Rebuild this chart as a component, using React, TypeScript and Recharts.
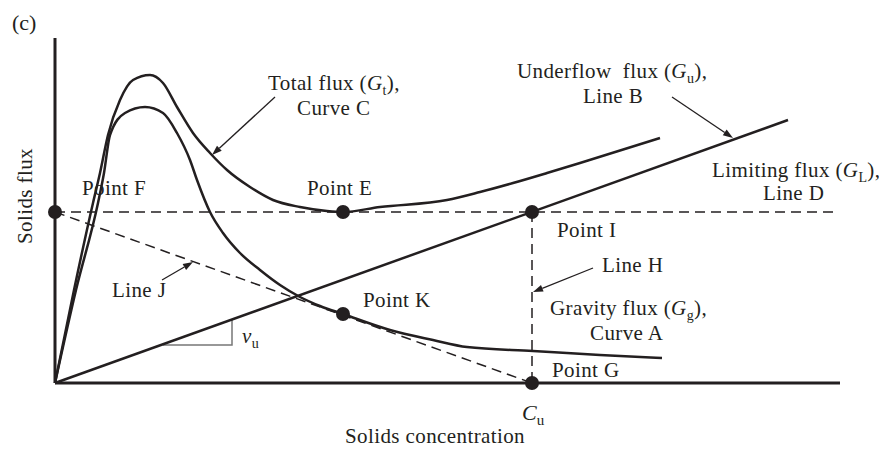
import React from "react";
import { ComposedChart, Line, Scatter, XAxis, YAxis, ReferenceLine } from "recharts";

// units: x = concentration, y = flux (arbitrary)
const totalFlux = [
  { x: 0, y: 0 }, { x: 19, y: 93 }, { x: 38, y: 180 }, { x: 45, y: 210 }, { x: 53, y: 248 },
  { x: 65, y: 283 }, { x: 78, y: 303 }, { x: 95, y: 308 }, { x: 108, y: 300 }, { x: 122, y: 276 },
  { x: 138, y: 250 }, { x: 155, y: 230 }, { x: 172, y: 213 }, { x: 195, y: 196 }, { x: 218, y: 183 },
  { x: 245, y: 176 }, { x: 272, y: 172 }, { x: 288, y: 171 }, { x: 325, y: 176 }, { x: 392, y: 183 },
  { x: 425, y: 191 }, { x: 458, y: 200 }, { x: 492, y: 210 }, { x: 525, y: 220 }, { x: 605, y: 245 },
];

const gravityFlux = [
  { x: 0, y: 0 }, { x: 21, y: 93 }, { x: 43, y: 180 }, { x: 49, y: 210 }, { x: 55, y: 248 },
  { x: 70, y: 270 }, { x: 90, y: 276 }, { x: 108, y: 270 }, { x: 122, y: 250 }, { x: 135, y: 223 },
  { x: 142, y: 203 }, { x: 155, y: 171 }, { x: 168, y: 150 }, { x: 185, y: 130 }, { x: 205, y: 113 },
  { x: 225, y: 98 }, { x: 245, y: 86 }, { x: 265, y: 77 }, { x: 288, y: 69 }, { x: 335, y: 53 },
  { x: 378, y: 43 }, { x: 412, y: 36 }, { x: 478, y: 32 }, { x: 545, y: 28 }, { x: 607, y: 25 },
];

const underflowLine = [{ x: 0, y: 0 }, { x: 733, y: 263 }];
const limitingLevel = [{ x: 0, y: 171 }, { x: 780, y: 171 }];
const lineH = [{ x: 477, y: 171 }, { x: 477, y: 0 }];
const lineJ = [{ x: 0, y: 171 }, { x: 477, y: 0 }];
const slopeMark = [{ x: 108, y: 38 }, { x: 177, y: 38 }, { x: 177, y: 63 }];

const points = [
  { name: "F", x: 0, y: 171 },
  { name: "E", x: 288, y: 171 },
  { name: "I", x: 477, y: 171 },
  { name: "K", x: 288, y: 69 },
  { name: "G", x: 477, y: 0 },
];

const arrows = [
  { from: { x: 220, y: 286 }, to: { x: 157, y: 228 } },
  { from: { x: 617, y: 286 }, to: { x: 678, y: 245 } },
  { from: { x: 107, y: 103 }, to: { x: 138, y: 121 } },
  { from: { x: 538, y: 115 }, to: { x: 478, y: 91 } },
];

const labels = [
  { x: 213, y: 293, pre: "Total flux (", g: "G", sub: "t", post: ")," },
  { x: 242, y: 268, pre: "Curve C" },
  { x: 462, y: 305, pre: "Underflow\u00a0 flux (", g: "G", sub: "u", post: ")," },
  { x: 528, y: 280, pre: "Line B" },
  { x: 657, y: 206, pre: "Limiting flux (", g: "G", sub: "L", post: ")," },
  { x: 708, y: 183, pre: "Line D" },
  { x: 27, y: 188, pre: "Point F" },
  { x: 252, y: 188, pre: "Point E" },
  { x: 502, y: 146, pre: "Point I" },
  { x: 547, y: 111, pre: "Line H" },
  { x: 308, y: 76, pre: "Point K" },
  { x: 495, y: 68, pre: "Gravity flux (", g: "G", sub: "g", post: ")," },
  { x: 535, y: 43, pre: "Curve A" },
  { x: 497, y: 6, pre: "Point G" },
  { x: 57, y: 86, pre: "Line J" },
  { x: 187, y: 40, pre: "", g: "\u03bd", sub: "u" },
];

const xTicks = [477];

const INK = "#231f20";
const FONT = "'Liberation Serif', 'Times New Roman', serif";
const FS = 21;
const LS = 0.4;

function LabelShape(props: any) {
  const { cx, cy, payload } = props;
  return (
    <text x={cx} y={cy} fontFamily={FONT} fontSize={FS} letterSpacing={LS} fill={INK}>
      {payload.pre ? <tspan>{payload.pre}</tspan> : null}
      {payload.g ? <tspan fontStyle="italic">{payload.g}</tspan> : null}
      {payload.sub ? <tspan fontSize={14} dy={5}>{payload.sub}</tspan> : null}
      {payload.post ? <tspan dy={-5}>{payload.post}</tspan> : null}
    </text>
  );
}

function ArrowShape(props: any) {
  const { x1, y1, x2, y2 } = props;
  const a = Math.atan2(y2 - y1, x2 - x1);
  const L = 10, W = 3.5;
  const bx = x2 - L * Math.cos(a), by = y2 - L * Math.sin(a);
  const p1 = `${bx + W * Math.sin(a)},${by - W * Math.cos(a)}`;
  const p2 = `${bx - W * Math.sin(a)},${by + W * Math.cos(a)}`;
  return (
    <g>
      <line x1={x1} y1={y1} x2={bx} y2={by} stroke={INK} strokeWidth={1.3} />
      <polygon points={`${x2},${y2} ${p1} ${p2}`} fill={INK} />
    </g>
  );
}

function CuTick(props: any) {
  const { x, y } = props;
  return (
    <text x={x - 10} y={y + 29} fontFamily={FONT} fontSize={22} fill={INK}>
      <tspan fontStyle="italic">C</tspan>
      <tspan fontSize={15} dy={5}>u</tspan>
    </text>
  );
}

export default function App() {
  return (
    <div style={{ position: "absolute", left: 0, top: 0, width: 879, height: 449, background: "#fff" }}>
      <div style={{ position: "absolute", left: 12, top: 9, fontFamily: FONT, fontSize: 22, color: INK, lineHeight: "28px" }}>
        (c)
      </div>
      <ComposedChart width={879} height={449} margin={{ top: 38, right: 39, bottom: 36, left: 35 }}>
        <XAxis
          type="number" dataKey="x" domain={[0, 785]} ticks={xTicks} tick={<CuTick />}
          tickLine={false} axisLine={{ stroke: INK, strokeWidth: 3 }} height={30}
          label={({ viewBox }: any) => (
            <text x={viewBox.x + 380} y={viewBox.y + 60} textAnchor="middle" fontFamily={FONT} fontSize={FS} letterSpacing={LS} fill={INK}>
              Solids concentration
            </text>
          )}
        />
        <YAxis
          type="number" dataKey="y" domain={[0, 345]} ticks={[]} tick={false}
          tickLine={false} axisLine={{ stroke: INK, strokeWidth: 3 }} width={20}
          label={({ viewBox }: any) => (
            <text transform={`translate(32, ${viewBox.y + 158}) rotate(-90)`} textAnchor="middle" fontFamily={FONT} fontSize={FS} letterSpacing={LS} fill={INK}>
              Solids flux
            </text>
          )}
        />
        <Line data={limitingLevel} dataKey="y" type="linear" stroke={INK} strokeWidth={1.5} strokeDasharray="10 6" dot={false} isAnimationActive={false} />
        <Line data={lineH} dataKey="y" type="linear" stroke={INK} strokeWidth={1.5} strokeDasharray="10 6" dot={false} isAnimationActive={false} />
        <Line data={lineJ} dataKey="y" type="linear" stroke={INK} strokeWidth={1.5} strokeDasharray="10 6" dot={false} isAnimationActive={false} />
        <Line data={slopeMark} dataKey="y" type="linear" stroke="#777" strokeWidth={1.5} dot={false} isAnimationActive={false} />
        <Line data={underflowLine} dataKey="y" type="linear" stroke={INK} strokeWidth={2.5} dot={false} isAnimationActive={false} />
        <Line data={gravityFlux} dataKey="y" type="monotone" stroke={INK} strokeWidth={2.5} dot={false} isAnimationActive={false} />
        <Line data={totalFlux} dataKey="y" type="monotone" stroke={INK} strokeWidth={2.5} dot={false} isAnimationActive={false} />
        {arrows.map((a, i) => (
          <ReferenceLine key={i} segment={[a.from, a.to]} shape={ArrowShape} />
        ))}
        <Scatter data={points} fill={INK} shape={(p: any) => <circle cx={p.cx} cy={p.cy} r={7} fill={INK} />} isAnimationActive={false} />
        <Scatter data={labels} shape={LabelShape} isAnimationActive={false} />
      </ComposedChart>
    </div>
  );
}
